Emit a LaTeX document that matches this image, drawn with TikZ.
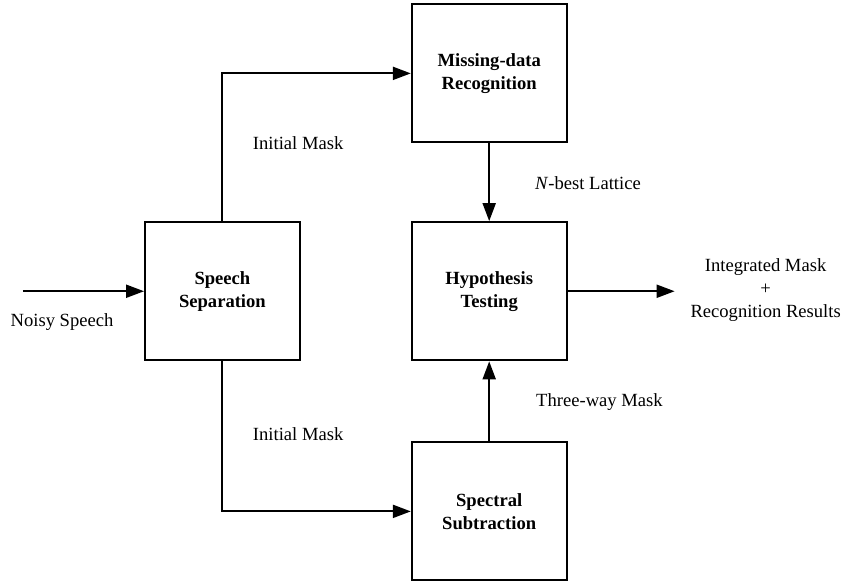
\documentclass[tikz,border=0pt]{standalone}
\usepackage{fontspec}
\setmainfont{Liberation Serif}
\usepackage{tikz}
\usetikzlibrary{
  arrows.meta,
  positioning
}
\newcommand{\figfont}{\fontsize{9.3}{11.4}\selectfont}
\tikzset{
  block/.style={
    rectangle, draw=black, fill=white,
    minimum width=2.72cm, minimum height=2.43cm,
    font=\figfont\bfseries, align=center, line width=1pt
  },
  arrow/.style={-{Triangle[length=9pt, width=6.5pt]}, line width=1pt},
  lbl/.style={font=\figfont, inner sep=0pt},
}

\begin{document}
\begin{tikzpicture}[
  node distance=0.8cm,
]
\useasboundingbox (0,0) rectangle (14.82,-10.25);

% Blocks
\node[block] (sep) at (3.91, -5.12) {Speech\\Separation};
\node[block] (miss) at (8.60, -1.29) {Missing-data\\Recognition};
\node[block] (hyp) at (8.60, -5.12) {Hypothesis\\Testing};
\node[block] (spec) at (8.60, -8.99) {Spectral\\Subtraction};

% Free ends
\coordinate (in) at (0.40, -5.12);
\coordinate (out) at (11.86, -5.12);

% Connectors
\draw[arrow] (in) -- (sep);
\draw[arrow] (sep.north) |- (miss.west);
\draw[arrow] (sep.south) |- (spec.west);
\draw[arrow] (miss) -- (hyp);
\draw[arrow] (spec) -- (hyp);
\draw[arrow] (hyp) -- (out);

% Labels
\node[lbl, anchor=west] (noisy) at (0.18, -5.66) {Noisy Speech};
\node[lbl, anchor=west] (initup) at (4.44, -2.51) {Initial Mask};
\node[lbl, anchor=west] (initdn) at (4.44, -7.64) {Initial Mask};
\node[lbl, anchor=west] (nbest) at (9.40, -3.22) {\textit{N}-best Lattice};
\node[lbl, anchor=west] (three) at (9.42, -7.07) {Three-way Mask};
\node[lbl, align=center] (result) at (13.46, -5.10) {Integrated Mask\\+\\Recognition Results};

\end{tikzpicture}
\end{document}
